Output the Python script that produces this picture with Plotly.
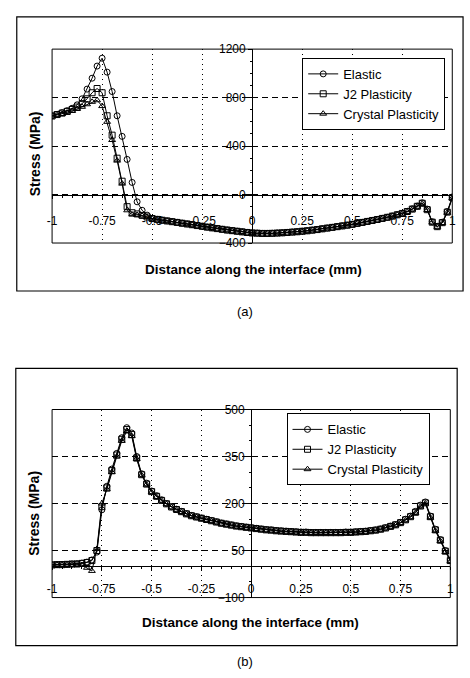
import numpy as np
import plotly.graph_objects as go

W, H = 470, 678

# Positions along the interface (mm), sampled every 0.025 mm
x_pos = np.round(np.linspace(-1.0, 1.0, 81), 3)

# ---- (a) stress along the interface, MPa ----
elastic_a = [
    650, 662, 676, 692, 712, 740, 790, 870, 960, 1060,
    1125, 1010, 850, 650, 480, 290, 100, -60, -130, -170,
    -196, -204, -211, -217, -223, -229, -235, -242, -248, -255,
    -261, -268, -274, -280, -286, -292, -297, -302, -307, -312,
    -316, -318, -320, -320, -319, -317, -315, -312, -309, -306,
    -302, -298, -293, -288, -282, -276, -270, -264, -258, -252,
    -245, -237, -229, -221, -213, -205, -196, -187, -177, -166,
    -155, -138, -118, -95, -68, -120, -225, -262, -228, -140,
    -20,
]
j2_a = [
    648, 660, 672, 686, 702, 722, 750, 790, 840, 875,
    840, 650, 490, 300, 110, -100, -150, -160, -172, -185,
    -198, -205, -212, -218, -224, -230, -237, -243, -249, -256,
    -262, -269, -275, -281, -287, -293, -298, -303, -308, -313,
    -317, -319, -321, -321, -320, -318, -316, -313, -310, -307,
    -303, -299, -294, -289, -283, -277, -271, -265, -259, -253,
    -246, -238, -230, -222, -214, -206, -197, -188, -178, -167,
    -156, -140, -120, -97, -72, -125, -228, -265, -232, -145,
    -25,
]
crystal_a = [
    645, 655, 665, 676, 690, 706, 724, 745, 765, 778,
    730, 600, 450, 280, 90, -130, -165, -168, -175, -186,
    -199, -206, -213, -219, -225, -231, -238, -244, -250, -257,
    -263, -270, -276, -282, -288, -294, -299, -304, -309, -314,
    -318, -320, -322, -322, -321, -319, -317, -314, -311, -308,
    -304, -300, -295, -290, -284, -278, -272, -266, -260, -254,
    -247, -239, -231, -223, -215, -207, -198, -189, -179, -168,
    -158, -143, -123, -100, -76, -128, -230, -266, -235, -150,
    -30,
]

# ---- (b) stress along the interface, MPa ----
elastic_b = [
    5, 5, 6, 6, 7, 8, 10, 13, 20, 45,
    180, 255, 310, 360, 410, 442, 425, 350, 295, 265,
    240, 225, 212, 200, 190, 182, 175, 168, 162, 158,
    154, 150, 146, 142, 138, 135, 132, 129, 127, 125,
    123, 121, 119, 117, 116, 114, 113, 112, 111, 110,
    109, 109, 108, 108, 108, 108, 108, 108, 108, 109,
    109, 110, 111, 112, 114, 116, 119, 123, 128, 133,
    140, 150, 160, 175, 195, 205, 160, 118, 85, 50,
    20,
]
j2_b = [
    4, 5, 5, 6, 7, 7, 9, 12, 18, 50,
    190, 250, 305, 355, 405, 436, 420, 345, 292, 262,
    238, 223, 210, 199, 189, 181, 174, 167, 161, 157,
    153, 149, 145, 141, 137, 134, 131, 128, 126, 124,
    122, 120, 118, 116, 115, 113, 112, 111, 110, 109,
    108, 108, 107, 107, 107, 107, 107, 107, 107, 108,
    108, 109, 110, 111, 113, 115, 118, 122, 127, 132,
    139, 148, 158, 172, 192, 202, 158, 116, 83, 48,
    18,
]
crystal_b = [
    3, 4, 4, 5, 5, 6, 4, -5, -15, 55,
    200, 245, 300, 350, 400, 430, 415, 342, 290, 260,
    236, 221, 209, 198, 188, 180, 173, 166, 160, 156,
    152, 148, 144, 140, 136, 133, 130, 127, 125, 123,
    121, 119, 117, 115, 114, 112, 111, 110, 109, 108,
    107, 107, 106, 106, 106, 106, 106, 106, 106, 107,
    107, 108, 109, 110, 112, 114, 117, 121, 126, 131,
    138, 146, 156, 170, 190, 200, 155, 113, 80, 45,
    15,
]

series_names = ["Elastic", "J2 Plasticity", "Crystal Plasticity"]
symbols = ["circle-open", "square-open", "triangle-up-open"]

x_ticks = [-1, -0.75, -0.5, -0.25, 0, 0.25, 0.5, 0.75, 1]
x_ticktext = ["-1", "-0.75", "-0.5", "-0.25", "0", "0.25", "0.5", "0.75", "1"]
y_ticks_a = [-400, 0, 400, 800, 1200]
y_ticks_b = [-100, 50, 200, 350, 500]

FONT = "Liberation Sans, Arial, sans-serif"

# plot-area rectangles in pixels: (left, right, top, bottom)
pa = (48, 456, 43, 241)
pb = (48, 454, 411, 603)
y_range_a = (-400, 1200)
y_range_b = (-100, 500)


def px_x(v):
    return v / W


def px_y(v):
    return 1 - v / H


fig = go.Figure()

for name, sym, ys in zip(series_names, symbols, [elastic_a, j2_a, crystal_a]):
    fig.add_trace(go.Scatter(
        x=x_pos, y=ys, name=name, mode="lines+markers",
        line=dict(color="black", width=1),
        marker=dict(symbol=sym, size=6, color="black", line=dict(width=1)),
        xaxis="x", yaxis="y", legend="legend",
    ))
for name, sym, ys in zip(series_names, symbols, [elastic_b, j2_b, crystal_b]):
    fig.add_trace(go.Scatter(
        x=x_pos, y=ys, name=name, mode="lines+markers",
        line=dict(color="black", width=1),
        marker=dict(symbol=sym, size=6, color="black", line=dict(width=1)),
        xaxis="x2", yaxis="y2", legend="legend2",
    ))


def x_axis(rect, yr, standoff):
    l, r, t, b = rect
    ybot, ytop = px_y(b), px_y(t)
    zero_frac = (0 - yr[0]) / (yr[1] - yr[0])
    return dict(
        domain=[px_x(l), px_x(r)], range=[-1, 1], anchor="free",
        position=ybot + zero_frac * (ytop - ybot),
        tickvals=x_ticks, ticktext=x_ticktext,
        showline=True, linecolor="black", linewidth=1.2,
        ticks="outside", ticklen=3, tickcolor="black",
        ticklabelstandoff=standoff,
        minor=dict(dtick=0.05, ticks="outside", ticklen=2, tickcolor="black", showgrid=False),
        showgrid=True, gridcolor="black", gridwidth=1, griddash="1px,4px",
        zeroline=False, tickfont=dict(family=FONT, size=12, color="black"),
    )


def y_axis(rect, yr, ticks):
    l, r, t, b = rect
    return dict(
        domain=[px_y(b), px_y(t)], range=list(yr), anchor="free",
        position=px_x(l + (r - l) / 2),
        tickvals=ticks,
        showline=True, linecolor="black", linewidth=1.2,
        ticks="outside", ticklen=4, tickcolor="black",
        minor=dict(nticks=5, ticks="outside", ticklen=2, tickcolor="black", showgrid=False),
        showgrid=True, gridcolor="black", gridwidth=1, griddash="6px,4px",
        zeroline=False, tickfont=dict(family=FONT, size=12, color="black"),
    )


shapes = []
for ax in ["", "2"]:
    shapes.append(dict(type="rect", xref=f"x{ax} domain", yref=f"y{ax} domain",
                       x0=0, x1=1, y0=0, y1=1, line=dict(color="black", width=1)))
# outer frames of the two panels
for (l, r, t, b) in [(12, 467, 10, 290), (11, 461, 369, 652)]:
    shapes.append(dict(type="rect", xref="paper", yref="paper",
                       x0=px_x(l), x1=px_x(r), y0=px_y(b), y1=px_y(t),
                       line=dict(color="black", width=1.2)))

annotations = []
for (cx, cy, text) in [(253, 268, "Distance along the interface (mm)"),
                       (250, 628, "Distance along the interface (mm)")]:
    annotations.append(dict(x=px_x(cx), y=px_y(cy), xref="paper", yref="paper",
                            xanchor="center", yanchor="middle",
                            text=f"<b>{text}</b>", showarrow=False,
                            font=dict(family=FONT, size=13.5, color="black")))
for (cx, cy) in [(30, 150), (30, 517)]:
    annotations.append(dict(x=px_x(cx), y=px_y(cy), xref="paper", yref="paper",
                            xanchor="center", yanchor="middle",
                            text="<b>Stress (MPa)</b>", showarrow=False, textangle=-90,
                            font=dict(family=FONT, size=14, color="black")))
for (cx, cy, text) in [(245, 311, "(a)"), (245, 668, "(b)")]:
    annotations.append(dict(x=px_x(cx), y=px_y(cy), xref="paper", yref="paper",
                            xanchor="center", yanchor="middle",
                            text=text, showarrow=False,
                            font=dict(family=FONT, size=13, color="black")))

legend_style = dict(
    xanchor="left", yanchor="top", bgcolor="white",
    bordercolor="black", borderwidth=1,
    font=dict(family=FONT, size=13, color="black"),
    tracegroupgap=0, itemwidth=30,
)

fig.update_layout(
    width=W, height=H, margin=dict(l=0, r=0, t=0, b=0),
    paper_bgcolor="white", plot_bgcolor="white",
    showlegend=True,
    xaxis=x_axis(pa, y_range_a, 12),
    yaxis=y_axis(pa, y_range_a, y_ticks_a),
    xaxis2=x_axis(pb, y_range_b, 8),
    yaxis2=y_axis(pb, y_range_b, y_ticks_b),
    legend=dict(x=px_x(303), y=px_y(52), **legend_style),
    legend2=dict(x=px_x(287), y=px_y(415), **legend_style),
    shapes=shapes, annotations=annotations,
)

fig.write_html("out.html")
